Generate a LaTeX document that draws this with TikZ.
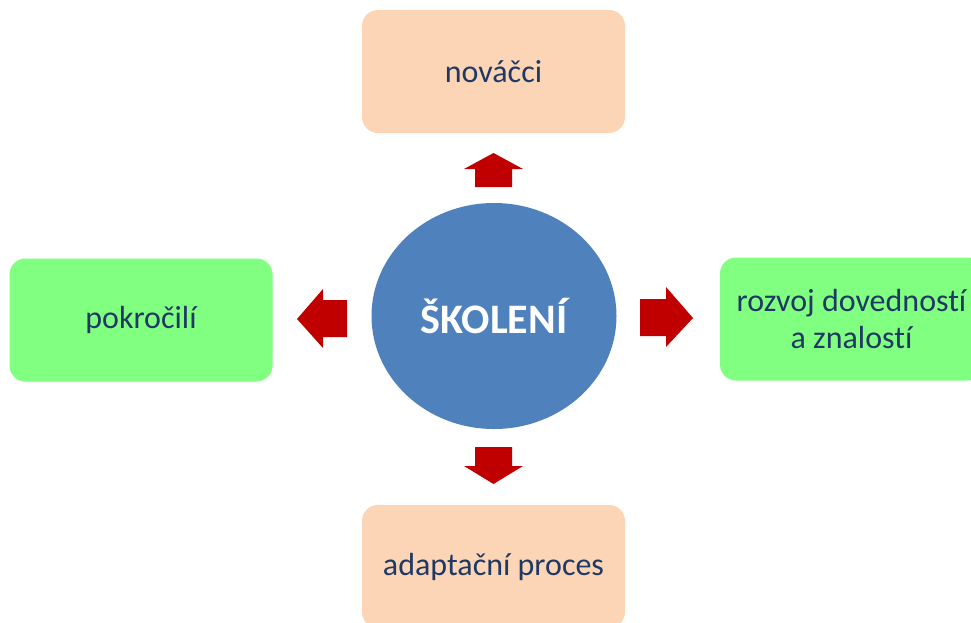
\documentclass[tikz,border=0pt]{standalone}
\usepackage{fontspec}
\setmainfont[RawFeature={-liga}]{Carlito}
\usetikzlibrary{shapes.geometric}
\definecolor{peachfill}{HTML}{FBD5B5}
\definecolor{greenfill}{HTML}{80FF80}
\definecolor{hubfill}{HTML}{4F81BD}
\definecolor{arrowred}{HTML}{C00000}
\definecolor{navytext}{HTML}{1F3864}
\begin{document}
\begin{tikzpicture}[x=1pt,y=-1pt,
  box/.style={rounded corners=16pt, minimum width=263pt, minimum height=123pt,
    inner sep=0pt, text=navytext, align=center,
    font=\fontsize{32}{37}\selectfont},
  peachbox/.style={box, fill=peachfill},
  greenbox/.style={box, fill=greenfill},
  hub/.style={ellipse, fill=hubfill, minimum width=245pt, minimum height=226pt,
    inner sep=0pt, text=white, font=\fontsize{42}{48}\selectfont\bfseries},
  blockarrow/.style={fill=arrowred, draw=none}]
\useasboundingbox (0,0) rectangle (971,622);
\clip (0,0) rectangle (971,622);

% central topic
\node[hub] (skoleni) at (494,316) {ŠKOLENÍ};

% surrounding boxes
\node[peachbox] (novacci) at (493.5,71.5) {nováčci};
\node[peachbox] (adaptace) at (493.5,566.5) {adaptační proces};
\node[greenbox] (pokrocili) at (141,320) {pokročilí};
\node[greenbox] (rozvoj) at (851.5,319) {rozvoj dovedností\\a znalostí};

% block arrows pointing outward from the centre
\fill[blockarrow] (475,187) -- (475,169) -- (464,169) -- (493.5,153)
  -- (523,169) -- (512,169) -- (512,187) -- cycle;
\fill[blockarrow] (475,447) -- (512,447) -- (512,466) -- (523,466)
  -- (493.5,484) -- (464,466) -- (475,466) -- cycle;
\fill[blockarrow] (347,300) -- (323,300) -- (323,289) -- (297,319)
  -- (323,348) -- (323,337) -- (347,337) -- cycle;
\fill[blockarrow] (640,299) -- (666,299) -- (666,287) -- (693,318)
  -- (666,347) -- (666,336) -- (640,336) -- cycle;
\end{tikzpicture}
\end{document}
